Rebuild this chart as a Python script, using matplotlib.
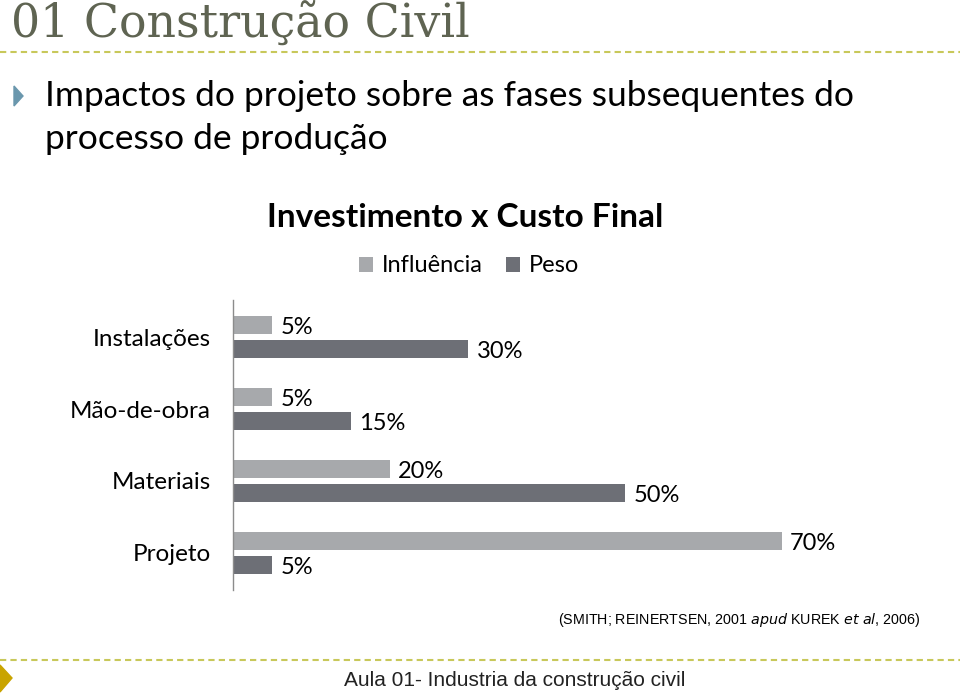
import matplotlib.pyplot as plt
from matplotlib.patches import Polygon
from matplotlib.lines import Line2D

# data
categorias = ['Instalações', 'Mão-de-obra', 'Materiais', 'Projeto']
influencia = [5, 5, 20, 70]
peso = [30, 15, 50, 5]

cor_infl = '#a7a9ac'
cor_peso = '#6d6f76'

W, H = 960, 693
fig = plt.figure(figsize=(W / 100, H / 100), dpi=100)
fig.patch.set_facecolor('white')


def px(x, y):
    # pixel coords (top-left origin) -> figure fraction
    return x / W, 1 - y / H


# slide header
fig.text(*px(11, 38), '01 Construção Civil', family='DejaVu Serif', fontsize=33,
         color='#5f6452', va='baseline', ha='left')
fig.add_artist(Line2D([0, 1], [1 - 52 / H] * 2, transform=fig.transFigure,
                      color='#c8c85a', lw=1.5, ls=(0, (3, 2))))

# bullet
tri = Polygon([px(14, 86), px(14, 106), px(23, 96)], closed=True,
              transform=fig.transFigure, color='#6a97ad')
fig.add_artist(tri)
fig.text(*px(45, 96), 'Impactos do projeto sobre as fases subsequentes do',
         family='Lato', fontsize=25.5, color='black', va='center', ha='left')
fig.text(*px(45, 139), 'processo de produção',
         family='Lato', fontsize=25.5, color='black', va='center', ha='left')

# chart title and legend
fig.text(*px(465, 218), 'Investimento x Custo Final', family='Lato',
         fontweight='bold', fontsize=24, color='black', ha='center', va='center')

# axes placed so that 1% = ~7.84 px
ax_left, ax_top, ax_bottom = 233, 300, 590
ax_w = 600
ax = fig.add_axes([ax_left / W, 1 - ax_bottom / H, ax_w / W, (ax_bottom - ax_top) / H])
ax.set_xlim(0, ax_w / 7.84)
ax.set_ylim(3.514, -0.514)

ypos = list(range(len(categorias)))
off = 0.167
h = 0.25
b1 = ax.barh([y - off for y in ypos], influencia, height=h, color=cor_infl, label='Influência')
b2 = ax.barh([y + off for y in ypos], peso, height=h, color=cor_peso, label='Peso')

for y, v in zip(ypos, influencia):
    ax.annotate(f'{v}%', (v, y - off + 0.03), xytext=(6, 0), textcoords='offset points',
                va='center', ha='left', family='Lato', fontsize=17)
for y, v in zip(ypos, peso):
    ax.annotate(f'{v}%', (v, y + off + 0.04), xytext=(6, 0), textcoords='offset points',
                va='center', ha='left', family='Lato', fontsize=17)

ax.set_yticks(ypos)
ax.set_yticklabels(categorias, family='Lato', fontsize=17.5)
ax.tick_params(axis='y', length=0, pad=16)
ax.set_xticks([])
for s in ['top', 'right', 'bottom']:
    ax.spines[s].set_visible(False)
ax.spines['left'].set_color('#8c8c8c')
ax.spines['left'].set_linewidth(1)

leg = fig.legend(handles=[b1, b2], loc='center', bbox_to_anchor=px(469, 266),
                 ncol=2, frameon=False, prop={'family': 'Lato', 'size': 17},
                 handlelength=0.6, handleheight=0.6, handletextpad=0.35,
                 columnspacing=1.0)

# source
fig.text(*px(921, 620), '(SMITH; REINERTSEN, 2001 $\\it{apud}$ KUREK $\\it{et\\ al}$, 2006)',
         family='Liberation Sans', fontsize=10.3, ha='right', va='center')

# footer
fig.add_artist(Line2D([0, 1], [1 - 660 / H] * 2, transform=fig.transFigure,
                      color='#c8c85a', lw=1.5, ls=(0, (3, 2))))
tri2 = Polygon([px(0, 665), px(0, 692), px(12, 678)], closed=True,
               transform=fig.transFigure, color='#c9a400')
fig.add_artist(tri2)
fig.text(*px(515, 680), 'Aula 01- Industria da construção civil',
         family=['Liberation Sans Narrow', 'Liberation Sans'], fontsize=15,
         ha='center', va='center', color='#222222')

fig.savefig('out.png', dpi=100)
